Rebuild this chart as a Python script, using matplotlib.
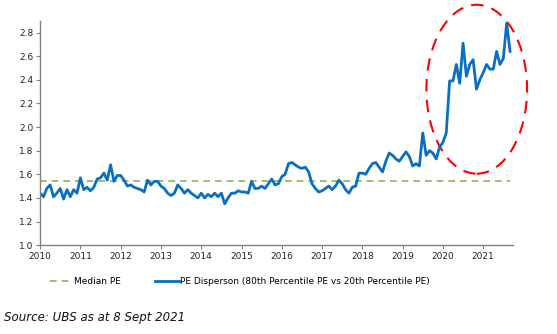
import matplotlib
matplotlib.use("Agg")
import matplotlib.pyplot as plt
from matplotlib.patches import Ellipse
import numpy as np

# Monthly PE dispersion, Jan 2010 - Sep 2021
pe_2010 = [1.44, 1.41, 1.48, 1.51, 1.41, 1.44, 1.48, 1.39, 1.47, 1.41, 1.47, 1.44]
pe_2011 = [1.57, 1.47, 1.49, 1.46, 1.49, 1.56, 1.57, 1.61, 1.55, 1.68, 1.54, 1.59]
pe_2012 = [1.59, 1.55, 1.50, 1.51, 1.49, 1.48, 1.47, 1.45, 1.55, 1.51, 1.54, 1.54]
pe_2013 = [1.50, 1.48, 1.44, 1.42, 1.44, 1.51, 1.48, 1.44, 1.47, 1.44, 1.42, 1.40]
pe_2014 = [1.44, 1.40, 1.43, 1.41, 1.44, 1.41, 1.44, 1.35, 1.40, 1.44, 1.44, 1.46]
pe_2015 = [1.45, 1.45, 1.44, 1.54, 1.48, 1.48, 1.50, 1.48, 1.52, 1.56, 1.51, 1.52]
pe_2016 = [1.58, 1.60, 1.69, 1.70, 1.68, 1.66, 1.65, 1.66, 1.62, 1.52, 1.48, 1.45]
pe_2017 = [1.46, 1.48, 1.50, 1.47, 1.50, 1.55, 1.52, 1.47, 1.44, 1.49, 1.50, 1.61]
pe_2018 = [1.61, 1.60, 1.65, 1.69, 1.70, 1.66, 1.62, 1.71, 1.78, 1.76, 1.73, 1.71]
pe_2019 = [1.75, 1.79, 1.75, 1.67, 1.69, 1.67, 1.95, 1.76, 1.80, 1.78, 1.73, 1.83]
pe_2020 = [1.87, 1.95, 2.39, 2.39, 2.53, 2.37, 2.71, 2.43, 2.53, 2.57, 2.32, 2.40]
pe_2021 = [2.46, 2.53, 2.49, 2.49, 2.64, 2.53, 2.58, 2.88, 2.64]

pe_dispersion = (pe_2010 + pe_2011 + pe_2012 + pe_2013 + pe_2014 + pe_2015
                 + pe_2016 + pe_2017 + pe_2018 + pe_2019 + pe_2020 + pe_2021)
dates = 2010 + np.arange(len(pe_dispersion)) / 12.0
median_pe = 1.54
years = list(range(2010, 2022))

fig = plt.figure(figsize=(5.57, 3.34), dpi=100)
ax = fig.add_axes([0.072, 0.266, 0.849, 0.672])

blue = "#0A6FC2"
green = "#8DB35A"

ax.plot([dates[0], dates[-1]], [median_pe, median_pe], color=green, lw=1.2,
        dashes=(4, 3), label="Median PE")
ax.plot(dates, pe_dispersion, color=blue, lw=2.0,
        label="PE Disperson (80th Percentile PE vs 20th Percentile PE)")

# red dashed ellipse highlighting the recent jump
ell = Ellipse((2020.84, 2.32), width=2.5, height=1.43, fill=False,
              edgecolor="red", lw=1.5, linestyle=(0, (6, 4)), clip_on=False)
ax.add_patch(ell)

ax.set_xlim(2010, 2021.74)
ax.set_ylim(1.0, 2.9)
ax.set_xticks(years)
ax.set_xticklabels([str(y) for y in years])
ax.set_yticks(np.arange(1.0, 2.81, 0.2))
ax.set_yticklabels([f"{v:.1f}" for v in np.arange(1.0, 2.81, 0.2)])
ax.tick_params(labelsize=6.5, colors="#222222", length=3, width=0.8,
               color="#808080", pad=2)

for side in ["top", "right"]:
    ax.spines[side].set_visible(False)
for side in ["left", "bottom"]:
    ax.spines[side].set_color("#808080")
    ax.spines[side].set_linewidth(1.0)

fig.legend(loc="center left", bbox_to_anchor=(0.075, 0.158), ncol=2,
           frameon=False, fontsize=6.5, handlelength=2.6, handletextpad=0.1,
           columnspacing=3.8)

fig.text(0.008, 0.04, "Source: UBS as at 8 Sept 2021", fontsize=8.5,
         style="italic", color="#111111")

fig.savefig("out.png", dpi=100)
